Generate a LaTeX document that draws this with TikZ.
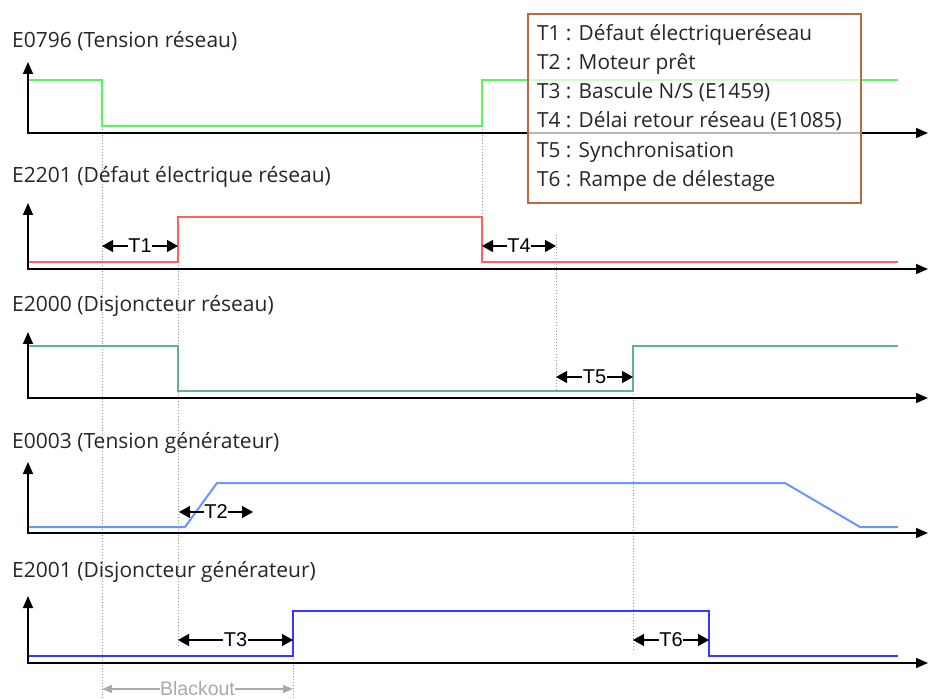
\documentclass[tikz,border=0pt]{standalone}
\usepackage{fontspec}
\setmainfont{Open Sans}
\newfontfamily\arialf{Liberation Sans}
\usetikzlibrary{arrows.meta}
\definecolor{sgreen}{RGB}{90,245,90}
\definecolor{sred}{RGB}{255,95,95}
\definecolor{steal}{RGB}{95,180,140}
\definecolor{slblue}{RGB}{105,150,255}
\definecolor{sblue}{RGB}{55,55,255}
\definecolor{legc}{RGB}{185,105,70}
\definecolor{guidec}{RGB}{150,150,150}
\definecolor{blackc}{RGB}{170,170,170}
\begin{document}
\begin{tikzpicture}[x=1pt,y=-1pt,
  guide/.style={draw=guidec,line width=0.9pt,dotted},
  axis/.style={draw=black,line width=1.6pt,{Triangle[length=12pt,width=10pt]}-{Triangle[length=12pt,width=10pt]}},
  sig/.style={line width=2pt,line join=miter},
  dimarr/.style={draw=black,line width=1.3pt,{Triangle[length=11pt,width=12pt]}-{Triangle[length=11pt,width=12pt]}},
  tlab/.style={font=\arialf\fontsize{20}{22}\selectfont,fill=white,inner sep=0.5pt},
  sigl/.style={font=\fontsize{21}{24}\selectfont,anchor=base west,inner sep=0pt,text=black!85},
  legl/.style={font=\fontsize{20.8}{24}\selectfont,anchor=base west,inner sep=0pt,text=black!85},
  legbox/.style={draw=legc,line width=1.8pt,fill=white,fill opacity=0.72,anchor=north west,inner sep=0pt}
]
\useasboundingbox (0,0) rectangle (929,700);

% guide coordinates
\coordinate (g1a) at (102,126); \coordinate (g1b) at (102,700);
\coordinate (g2a) at (178,262); \coordinate (g2b) at (178,647);
\coordinate (g3a) at (482,126); \coordinate (g3b) at (482,262);
\coordinate (g4a) at (556,235); \coordinate (g4b) at (556,391);
\coordinate (g5a) at (633,391); \coordinate (g5b) at (633,650);
\coordinate (g6a) at (293,656); \coordinate (g6b) at (293,700);
\foreach \i in {1,...,6} {\draw[guide] (g\i a) -- (g\i b);}

% axes
\foreach \n/\b/\t in {1/133/62, 2/269/203, 3/398/332, 4/533/462, 5/663/596} {
  \coordinate (top\n) at (28,\t);
  \coordinate (org\n) at (28,\b);
  \coordinate (end\n) at (928,\b);
  \draw[axis] (top\n) -- (org\n) -- (end\n);
}

% signal labels
\node[sigl] (lab1) at (12,48) {E0796 (Tension réseau)};
\node[sigl] (lab2) at (12,183) {E2201 (Défaut électrique réseau)};
\node[sigl] (lab3) at (12,312) {E2000 (Disjoncteur réseau)};
\node[sigl] (lab4) at (12,448) {E0003 (Tension générateur)};
\node[sigl] (lab5) at (12,577) {E2001 (Disjoncteur générateur)};

% signals
\draw[sig,sgreen] (29,80) -- (102,80) -- (102,126) -- (482,126) -- (482,80) -- (898,80);
\draw[sig,sred] (29,262) -- (178,262) -- (178,217) -- (482,217) -- (482,262) -- (898,262);
\draw[sig,steal] (29,346) -- (178,346) -- (178,391) -- (633,391) -- (633,346) -- (898,346);
\draw[sig,slblue] (29,527) -- (185,527) -- (217,483) -- (785,483) -- (860,527) -- (898,527);
\draw[sig,sblue] (29,656) -- (293,656) -- (293,611) -- (709,611) -- (709,656) -- (898,656);

% timing arrows
\coordinate (t1a) at (102,246); \coordinate (t1b) at (178,246);
\coordinate (t4a) at (482,246); \coordinate (t4b) at (556,246);
\coordinate (t5a) at (556,377); \coordinate (t5b) at (633,377);
\coordinate (t2a) at (179,512); \coordinate (t2b) at (253,512);
\coordinate (t3a) at (178,640); \coordinate (t3b) at (293,640);
\coordinate (t6a) at (633,640); \coordinate (t6b) at (709,640);
\draw[dimarr] (t1a) -- node[tlab] (T1) {T1} (t1b);
\draw[dimarr] (t4a) -- node[tlab] (T4) {T4} (t4b);
\draw[dimarr] (t5a) -- node[tlab] (T5) {T5} (t5b);
\draw[dimarr] (t2a) -- node[tlab] (T2) {T2} (t2b);
\draw[dimarr] (t3a) -- node[tlab] (T3) {T3} (t3b);
\draw[dimarr] (t6a) -- node[tlab] (T6) {T6} (t6b);

% blackout
\coordinate (bla) at (102,689); \coordinate (blb) at (293,689);
\draw[draw=blackc,line width=1.2pt,{Triangle[length=10pt,width=8pt]}-{Triangle[length=10pt,width=8pt]}] (bla) -- node[font=\arialf\fontsize{19.5}{22}\selectfont,text=blackc,fill=white,inner sep=0.5pt] (blk) {Blackout} (blb);

% legend
\node[legbox,minimum width=333pt,minimum height=189pt] (leg) at (527,13) {};
\node[legl] (leg1) at (537,41) {T1 : Défaut électriqueréseau};
\node[legl] (leg2) at (537,70) {T2 : Moteur prêt};
\node[legl] (leg3) at (537,99) {T3 : Bascule N/S (E1459)};
\node[legl] (leg4) at (537,128) {T4 : Délai retour réseau (E1085)};
\node[legl] (leg5) at (537,158) {T5 : Synchronisation};
\node[legl] (leg6) at (537,187) {T6 : Rampe de délestage};
\end{tikzpicture}
\end{document}
